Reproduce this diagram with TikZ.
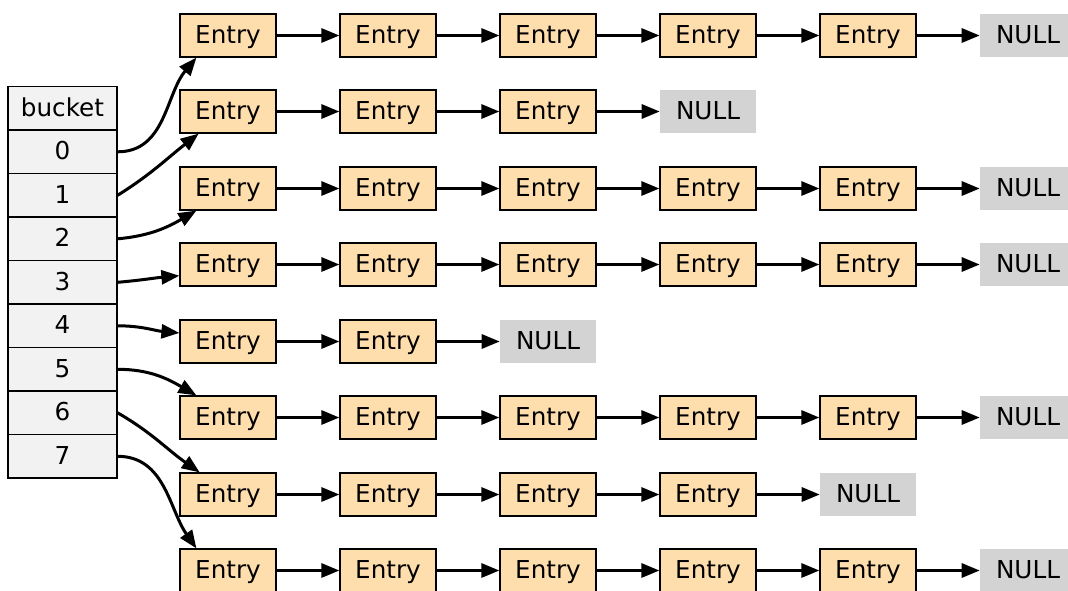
\documentclass[tikz,border=0pt]{standalone}
\usepackage{fontspec}
\setmainfont{DejaVu Sans}
\usetikzlibrary{arrows.meta}
\definecolor{entryfill}{HTML}{FFDEAD}
\definecolor{cellfill}{HTML}{F2F2F2}
\definecolor{nullfill}{HTML}{D3D3D3}
\tikzset{
  label text/.style={font=\fontsize{18.5}{22}\selectfont, text height=13.7pt, text depth=2pt},
  entry/.style={label text, draw=black, line width=0.9pt, fill=entryfill, minimum width=72pt, minimum height=32.25pt, inner sep=0pt},
  nullbox/.style={label text, fill=nullfill, minimum width=72pt, minimum height=32.25pt, inner sep=0pt},
  cell/.style={label text, draw=black, line width=0.9pt, fill=cellfill, minimum width=81.75pt, minimum height=32.6pt, inner sep=0pt},
  link/.style={line width=2.25pt, -{Triangle[length=13.5pt,width=10.5pt]}}
}
\begin{document}
\begin{tikzpicture}[x=0.75pt, y=-0.75pt]
      \useasboundingbox (0,0) rectangle (1068,590);
      \draw
        (62.5,108.3) node[cell] (bucket){bucket}
        (62.5,151.8) node[cell] (b0){0}
        (62.5,195.3) node[cell] (b1){1}
        (62.5,238.8) node[cell] (b2){2}
        (62.5,282.3) node[cell] (b3){3}
        (62.5,325.8) node[cell] (b4){4}
        (62.5,369.3) node[cell] (b5){5}
        (62.5,412.8) node[cell] (b6){6}
        (62.5,456.3) node[cell] (b7){7};
      \draw
        (228,35.5) node[entry] (r0c0){Entry}
        (388,35.5) node[entry] (r0c1){Entry}
        (548,35.5) node[entry] (r0c2){Entry}
        (708,35.5) node[entry] (r0c3){Entry}
        (868,35.5) node[entry] (r0c4){Entry}
        (1028,35.5) node[nullbox] (n0){NULL}
        (228,111.5) node[entry] (r1c0){Entry}
        (388,111.5) node[entry] (r1c1){Entry}
        (548,111.5) node[entry] (r1c2){Entry}
        (708,111.5) node[nullbox] (n1){NULL}
        (228,188.5) node[entry] (r2c0){Entry}
        (388,188.5) node[entry] (r2c1){Entry}
        (548,188.5) node[entry] (r2c2){Entry}
        (708,188.5) node[entry] (r2c3){Entry}
        (868,188.5) node[entry] (r2c4){Entry}
        (1028,188.5) node[nullbox] (n2){NULL}
        (228,264.5) node[entry] (r3c0){Entry}
        (388,264.5) node[entry] (r3c1){Entry}
        (548,264.5) node[entry] (r3c2){Entry}
        (708,264.5) node[entry] (r3c3){Entry}
        (868,264.5) node[entry] (r3c4){Entry}
        (1028,264.5) node[nullbox] (n3){NULL}
        (228,341.5) node[entry] (r4c0){Entry}
        (388,341.5) node[entry] (r4c1){Entry}
        (548,341.5) node[nullbox] (n4){NULL}
        (228,417.5) node[entry] (r5c0){Entry}
        (388,417.5) node[entry] (r5c1){Entry}
        (548,417.5) node[entry] (r5c2){Entry}
        (708,417.5) node[entry] (r5c3){Entry}
        (868,417.5) node[entry] (r5c4){Entry}
        (1028,417.5) node[nullbox] (n5){NULL}
        (228,494.5) node[entry] (r6c0){Entry}
        (388,494.5) node[entry] (r6c1){Entry}
        (548,494.5) node[entry] (r6c2){Entry}
        (708,494.5) node[entry] (r6c3){Entry}
        (868,494.5) node[nullbox] (n6){NULL}
        (228,570.5) node[entry] (r7c0){Entry}
        (388,570.5) node[entry] (r7c1){Entry}
        (548,570.5) node[entry] (r7c2){Entry}
        (708,570.5) node[entry] (r7c3){Entry}
        (868,570.5) node[entry] (r7c4){Entry}
        (1028,570.5) node[nullbox] (n7){NULL};
      \begin{scope}[link]
        \draw (b0.east) to[out=0,in=230] (r0c0.215);
        \draw (b1.east) to[out=32,in=218] (r1c0.217);
        \draw (b2.east) to[out=5,in=210] (r2c0.215);
        \draw (b3.east) to[out=5,in=185] (r3c0.193);
        \draw (b4.east) to[out=0,in=175] (r4c0.170);
        \draw (b5.east) to[out=0,in=150] (r5c0.145);
        \draw (b6.east) to[out=-30,in=145] (r6c0.142);
        \draw (b7.east) to[out=0,in=125] (r7c0.145);
        \draw (r0c0) to (r0c1);
        \draw (r0c1) to (r0c2);
        \draw (r0c2) to (r0c3);
        \draw (r0c3) to (r0c4);
        \draw (r0c4) to (n0);
        \draw (r1c0) to (r1c1);
        \draw (r1c1) to (r1c2);
        \draw (r1c2) to (n1);
        \draw (r2c0) to (r2c1);
        \draw (r2c1) to (r2c2);
        \draw (r2c2) to (r2c3);
        \draw (r2c3) to (r2c4);
        \draw (r2c4) to (n2);
        \draw (r3c0) to (r3c1);
        \draw (r3c1) to (r3c2);
        \draw (r3c2) to (r3c3);
        \draw (r3c3) to (r3c4);
        \draw (r3c4) to (n3);
        \draw (r4c0) to (r4c1);
        \draw (r4c1) to (n4);
        \draw (r5c0) to (r5c1);
        \draw (r5c1) to (r5c2);
        \draw (r5c2) to (r5c3);
        \draw (r5c3) to (r5c4);
        \draw (r5c4) to (n5);
        \draw (r6c0) to (r6c1);
        \draw (r6c1) to (r6c2);
        \draw (r6c2) to (r6c3);
        \draw (r6c3) to (n6);
        \draw (r7c0) to (r7c1);
        \draw (r7c1) to (r7c2);
        \draw (r7c2) to (r7c3);
        \draw (r7c3) to (r7c4);
        \draw (r7c4) to (n7);
      \end{scope}
    \end{tikzpicture}
\end{document}
